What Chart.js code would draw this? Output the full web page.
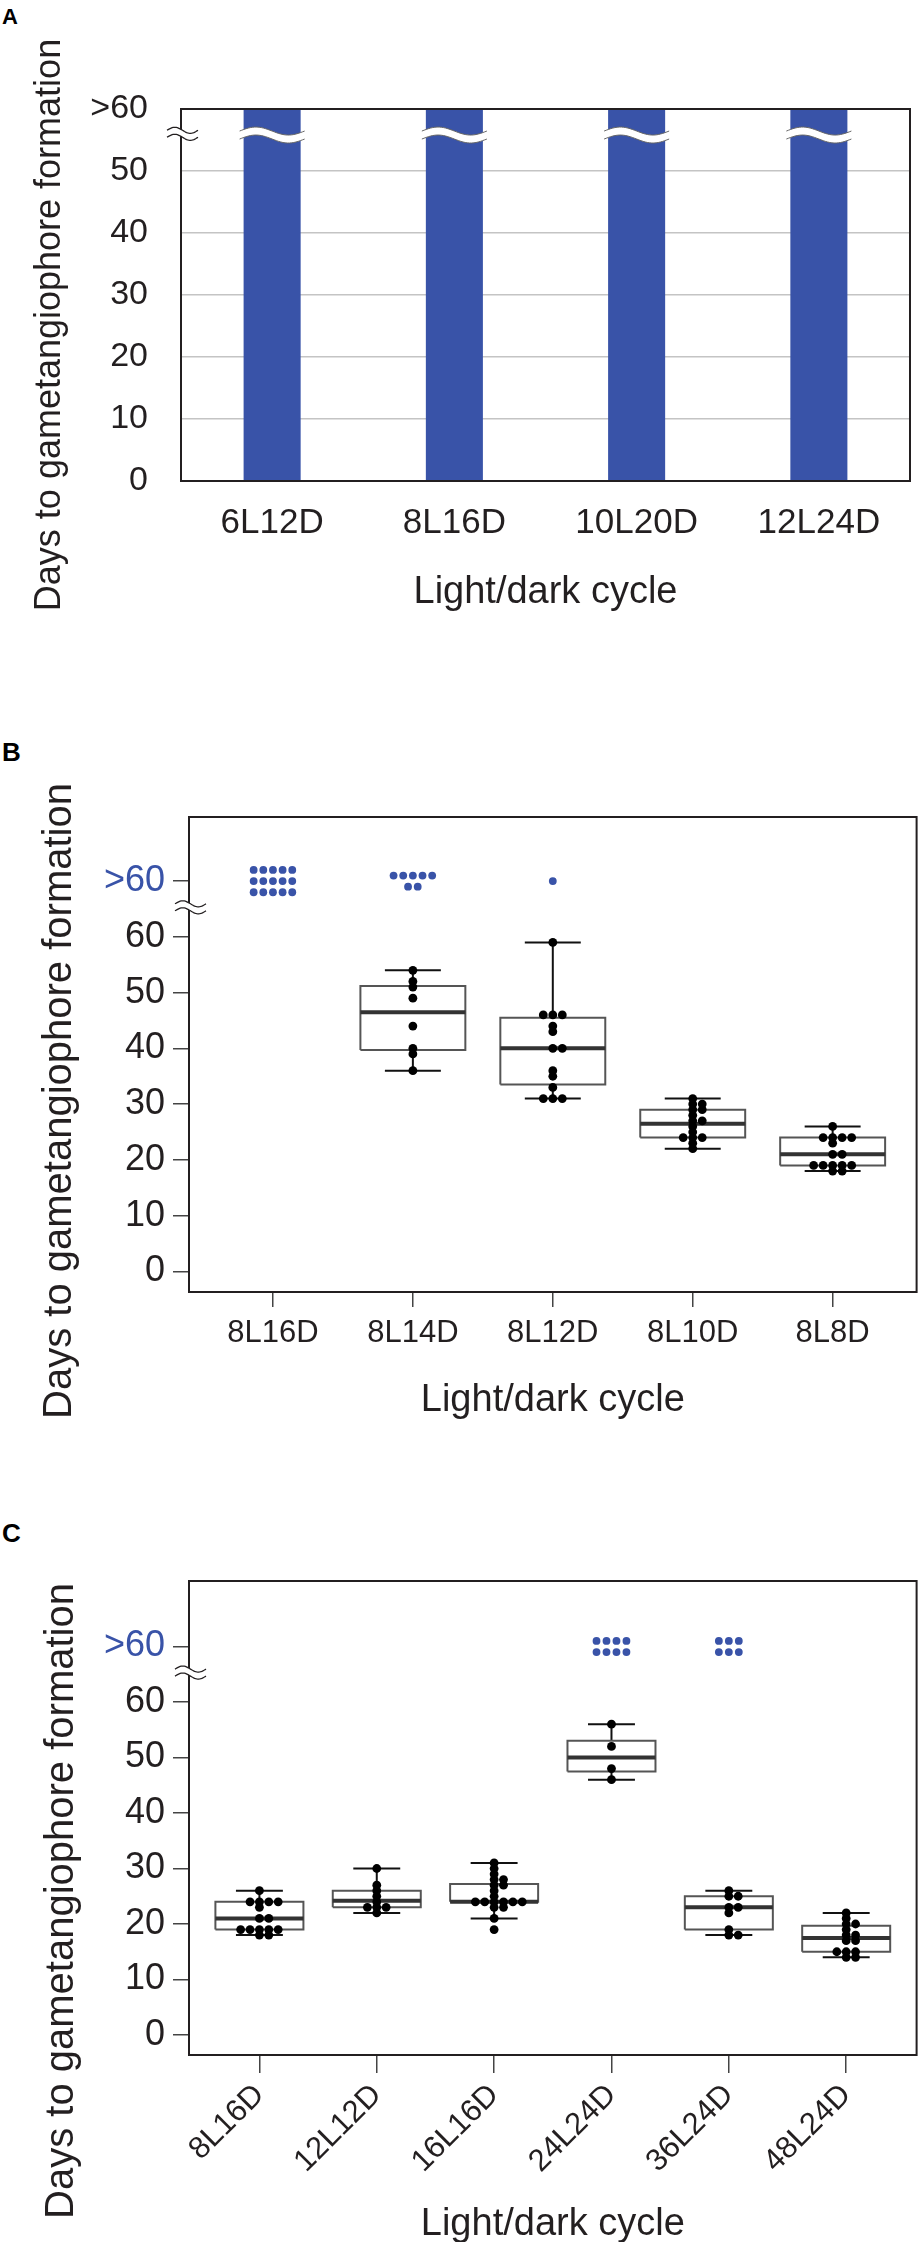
<!DOCTYPE html>
<html>
<head>
<meta charset="utf-8">
<script src="https://cdn.jsdelivr.net/npm/chart.js@4/dist/chart.umd.min.js"></script>
<style>
  html, body { margin: 0; padding: 0; background: #fff; width: 921px; height: 2242px; overflow: hidden; }
  .panel { position: absolute; left: 0; width: 921px; }
  .tag { position: absolute; left: 2px; font: bold 25px "Liberation Sans", Arial, sans-serif; line-height: 1; color: #000; }
</style>
</head>
<body>
<div class="tag" style="top:6px;font-size:22px">A</div>
<div class="tag" style="top:739px;font-size:26px">B</div>
<div class="tag" style="top:1520px;font-size:26px">C</div>
<div class="panel" style="top:0;height:700px"><canvas id="chartA"></canvas></div>
<div class="panel" style="top:700px;height:780px"><canvas id="chartB"></canvas></div>
<div class="panel" style="top:1480px;height:790px"><canvas id="chartC"></canvas></div>
<script>
// ---- panel A: bar chart, every cycle gave >60 days
const cyclesA = ['6L12D', '8L16D', '10L20D', '12L24D'];
const daysA = [60, 60, 60, 60];
const yTicksA = [0, 10, 20, 30, 40, 50, 60];   // 60 is shown as ">60"

// ---- panel B: 8 h light, shrinking dark period
const cyclesB = ['8L16D', '8L14D', '8L12D', '8L10D', '8L8D'];
const overB = [15, 7, 1, 0, 0];                // plants still without gametangiophores at 60 days
const pointsB = [
  [],
  [54, 52, 51, 49, 44, 40, 39, 36],
  [59, 46, 46, 46, 44, 43, 40, 40, 36, 35, 33, 31, 31, 31],
  [31, 30, 30, 29, 29, 28, 27, 27, 26, 25, 24, 24, 24, 23, 22],
  [26, 24, 24, 24, 24, 23, 21, 21, 19, 19, 19, 19, 19, 18, 18]
];
const minB = [null, 36, 31, 22, 18];
const q1B = [null, 39.7, 33.5, 24, 19];
const medB = [null, 46.5, 40, 26.5, 21];
const q3B = [null, 51.2, 45.5, 29, 24];
const maxB = [null, 54, 59, 31, 26];

// ---- panel C: longer cycles
const cyclesC = ['8L16D', '12L12D', '16L16D', '24L24D', '36L24D', '48L24D'];
const overC = [0, 0, 0, 8, 6, 0];
const pointsC = [
  [26, 24, 24, 24, 24, 23, 21, 21, 19, 19, 19, 19, 19, 18, 18],
  [30, 27, 26, 25, 24, 23, 23, 23, 22],
  [31, 30, 29, 28, 28, 27, 27, 26, 25, 24, 24, 24, 24, 24, 24, 23, 23, 21, 19],
  [56, 52, 48, 46],
  [26, 25, 25, 23, 23, 22, 19, 18, 18],
  [22, 21, 20, 20, 19, 18, 18, 17, 17, 15, 15, 15, 14, 14]
];
const minC = [18, 22, 21, 46, 18, 14];
const q1C = [19, 23, 24, 47.5, 19, 15];
const medC = [21, 24.2, 24, 50, 23, 17.5];
const q3C = [24, 26, 27.2, 53, 25, 19.7];
const maxC = [26, 30, 31, 56, 26, 22];

const yTicksBC = [0, 10, 20, 30, 40, 50, 60, 70];  // 70 is the ">60" row
const OVER = 70;

const ink = '#231f20';
const blue = '#3953a8';
const font = '"Liberation Sans", Arial, Helvetica, sans-serif';

// wavy line used for the axis breaks
function wave(ctx, x0, x1, y, amp, reverse) {
  const n = 30;
  for (let k = 0; k <= n; k++) {
    const t = reverse ? 1 - k / n : k / n;
    const px = x0 + (x1 - x0) * t;
    const py = y - amp * Math.sin(2 * Math.PI * t);
    if (k === 0 && !reverse) ctx.moveTo(px, py); else ctx.lineTo(px, py);
  }
}

function breakBand(ctx, x0, x1, y, half, amp, edge, edgeWidth) {
  ctx.beginPath();
  wave(ctx, x0, x1, y - half, amp, false);
  wave(ctx, x0, x1, y + half, amp, true);
  ctx.closePath();
  ctx.fillStyle = '#fff';
  ctx.fill();
  ctx.strokeStyle = edge;
  ctx.lineWidth = edgeWidth;
  ctx.beginPath(); wave(ctx, x0, x1, y - half, amp, false); ctx.stroke();
  ctx.beginPath(); wave(ctx, x0, x1, y + half, amp, false); ctx.stroke();
}

const decor = {
  id: 'decor',
  afterDraw(chart, args, opts) {
    const { ctx, chartArea: a, scales } = chart;
    ctx.save();
    // white break across the bars
    if (opts.barBreak !== undefined) {
      const y = scales.y.getPixelForValue(opts.barBreak);
      chart.getDatasetMeta(0).data.forEach(bar => {
        breakBand(ctx, bar.x - bar.width / 2 - 4, bar.x + bar.width / 2 + 4, y, 4, 4, '#666', 1);
      });
    }
    // frame
    ctx.strokeStyle = ink;
    ctx.lineWidth = 2;
    ctx.strokeRect(a.left, a.top, a.right - a.left, a.bottom - a.top);
    // break mark on the y axis
    const yb = scales.y.getPixelForValue(opts.axisBreak);
    breakBand(ctx, a.left - 14, a.left + 17, yb, 3.5, 3, ink, 1.3);
    // y axis title
    ctx.translate(opts.titleX, opts.titleY);
    ctx.rotate(-Math.PI / 2);
    ctx.fillStyle = ink;
    ctx.font = opts.titleSize + 'px ' + font;
    ctx.textAlign = 'center';
    ctx.textBaseline = 'middle';
    ctx.fillText('Days to gametangiophore formation', 0, 0);
    ctx.restore();
  }
};

// points spread sideways when they share a value (0, +1, -1, +2 ...)
function swarm(groups, step) {
  const pts = [];
  groups.forEach((vals, i) => {
    const seen = {};
    vals.forEach(v => {
      const k = seen[v] || 0;
      seen[v] = k + 1;
      const off = k === 0 ? 0 : (k % 2 ? (k + 1) / 2 : -k / 2);
      pts.push({ x: i + 1 + off * step, y: v });
    });
  });
  return pts;
}

// the ">60" dots, in centred rows
function overDots(counts, perRow, colStep, rowStep) {
  const pts = [];
  counts.forEach((n, i) => {
    if (!n) return;
    const rows = Math.ceil(n / perRow[i]);
    for (let r = 0; r < rows; r++) {
      const inRow = Math.min(perRow[i], n - r * perRow[i]);
      const yv = OVER + ((rows - 1) / 2 - r) * rowStep;
      for (let j = 0; j < inRow; j++) {
        pts.push({ x: i + 1 + (j - (inRow - 1) / 2) * colStep, y: yv });
      }
    }
  });
  return pts;
}

function boxLines(mins, q1s, meds, q3s, maxs) {
  const boxHalf = 0.375, capHalf = 0.2;
  const box = [], med = [], whisk = [];
  mins.forEach((mn, i) => {
    if (mn === null) return;
    const c = i + 1;
    box.push({ x: c - boxHalf, y: q1s[i] }, { x: c + boxHalf, y: q1s[i] }, { x: c + boxHalf, y: q3s[i] },
             { x: c - boxHalf, y: q3s[i] }, { x: c - boxHalf, y: q1s[i] }, { x: c, y: null });
    med.push({ x: c - boxHalf, y: meds[i] }, { x: c + boxHalf, y: meds[i] }, { x: c, y: null });
    whisk.push({ x: c, y: q3s[i] }, { x: c, y: maxs[i] }, { x: c, y: null },
               { x: c, y: q1s[i] }, { x: c, y: mins[i] }, { x: c, y: null },
               { x: c - capHalf, y: maxs[i] }, { x: c + capHalf, y: maxs[i] }, { x: c, y: null },
               { x: c - capHalf, y: mins[i] }, { x: c + capHalf, y: mins[i] }, { x: c, y: null });
  });
  return { box, med, whisk };
}

// Panel A
new Chart(document.getElementById('chartA'), {
  type: 'bar',
  data: {
    labels: cyclesA,
    datasets: [{ data: daysA, backgroundColor: blue, categoryPercentage: 1, barPercentage: 0.313 }]
  },
  options: {
    responsive: true,
    maintainAspectRatio: false,
    animation: false,
    layout: { padding: { top: 109, right: 11, left: 0, bottom: 0 } },
    plugins: {
      legend: { display: false },
      tooltip: { enabled: false },
      decor: { barBreak: 55.8, axisBreak: 56, titleX: 50, titleY: 325, titleSize: 36 }
    },
    scales: {
      x: {
        grid: { display: false, drawTicks: false },
        border: { display: false },
        ticks: { color: ink, padding: 21, font: { family: font, size: 35 } },
        title: { display: true, text: 'Light/dark cycle', color: ink, font: { family: font, size: 38 }, padding: { top: 0, bottom: 85 } },
        afterFit: s => { s.height = 219; }
      },
      y: {
        min: 0,
        max: 60,
        afterBuildTicks: s => { s.ticks = yTicksA.map(v => ({ value: v })); },
        grid: { color: c => (c.tick.value % 60 === 0 ? ink : '#c4c4c4'), lineWidth: 1.5, drawTicks: false },
        border: { display: false },
        ticks: { color: ink, padding: 33, font: { family: font, size: 34 }, callback: v => (v === 60 ? '>60' : v) },
        afterFit: s => { s.width = 181; }
      }
    }
  },
  plugins: [decor]
});

function boxChart(id, cats, points, over, perRow, stats, dims) {
  const lines = boxLines(...stats);
  new Chart(document.getElementById(id), {
    type: 'scatter',
    data: {
      datasets: [
        { data: overDots(over, perRow, dims.colStep, 2), backgroundColor: blue, borderWidth: 0, pointRadius: 3.9, order: 0 },
        { data: swarm(points, dims.dotStep), backgroundColor: '#000', borderWidth: 0, pointRadius: 4.4, order: 1 },
        { data: lines.med, showLine: true, borderColor: '#333', borderWidth: 4, pointRadius: 0, order: 2 },
        { data: lines.box, showLine: true, borderColor: '#555', borderWidth: 2, pointRadius: 0, borderJoinStyle: 'miter', order: 3 },
        { data: lines.whisk, showLine: true, borderColor: '#111', borderWidth: 2, pointRadius: 0, order: 4 }
      ]
    },
    options: {
      responsive: true,
      maintainAspectRatio: false,
      animation: false,
      layout: { padding: dims.padding },
      plugins: {
        legend: { display: false },
        tooltip: { enabled: false },
        decor: { axisBreak: 65.3, titleX: dims.titleX, titleY: dims.titleY, titleSize: 40 }
      },
      scales: {
        x: {
          type: 'linear',
          min: 0.4,
          max: cats.length + 0.6,
          afterBuildTicks: s => { s.ticks = cats.map((c, i) => ({ value: i + 1 })); },
          grid: { drawOnChartArea: false, drawTicks: true, tickLength: dims.xTick, tickColor: '#444', lineWidth: 1.5 },
          border: { display: false },
          ticks: {
            color: ink, padding: dims.xPad, autoSkip: false,
            minRotation: dims.rot, maxRotation: dims.rot,
            font: { family: font, size: 31 },
            callback: v => cats[v - 1]
          },
          title: { display: true, text: 'Light/dark cycle', color: ink, font: { family: font, size: 38 }, padding: { top: 0, bottom: dims.titlePad } },
          afterFit: s => { s.height = dims.xHeight; }
        },
        y: {
          min: dims.yMin,
          max: dims.yMax,
          afterBuildTicks: s => { s.ticks = yTicksBC.map(v => ({ value: v })); },
          grid: { drawOnChartArea: false, drawTicks: true, tickLength: 16, tickColor: '#444', lineWidth: 1.5 },
          border: { display: false },
          ticks: {
            padding: 8,
            font: { family: font, size: 36 },
            color: c => (c.tick && c.tick.value === OVER ? blue : ink),
            callback: v => (v === OVER ? '>60' : v)
          },
          afterFit: s => { s.width = 189; }
        }
      }
    },
    plugins: [decor]
  });
}

boxChart('chartB', cyclesB, pointsB, overB, [5, 5, 5, 5, 5], [minB, q1B, medB, q3B, maxB], {
  padding: { top: 117, right: 2, left: 0, bottom: 0 },
  xHeight: 188, xTick: 15, xPad: 8, rot: 0, titlePad: 57,
  yMin: -3.7, yMax: 81.5, dotStep: 0.068, colStep: 0.069,
  titleX: 60, titleY: 401
});

boxChart('chartC', cyclesC, pointsC, overC, [4, 4, 4, 4, 3, 4], [minC, q1C, medC, q3C, maxC], {
  padding: { top: 101, right: 4, left: 0, bottom: 0 },
  xHeight: 215, xTick: 18, xPad: 4, rot: 45, titlePad: 23,
  yMin: -3.6, yMax: 81.8, dotStep: 0.08, colStep: 0.085,
  titleX: 62, titleY: 421
});
</script>
</body>
</html>
